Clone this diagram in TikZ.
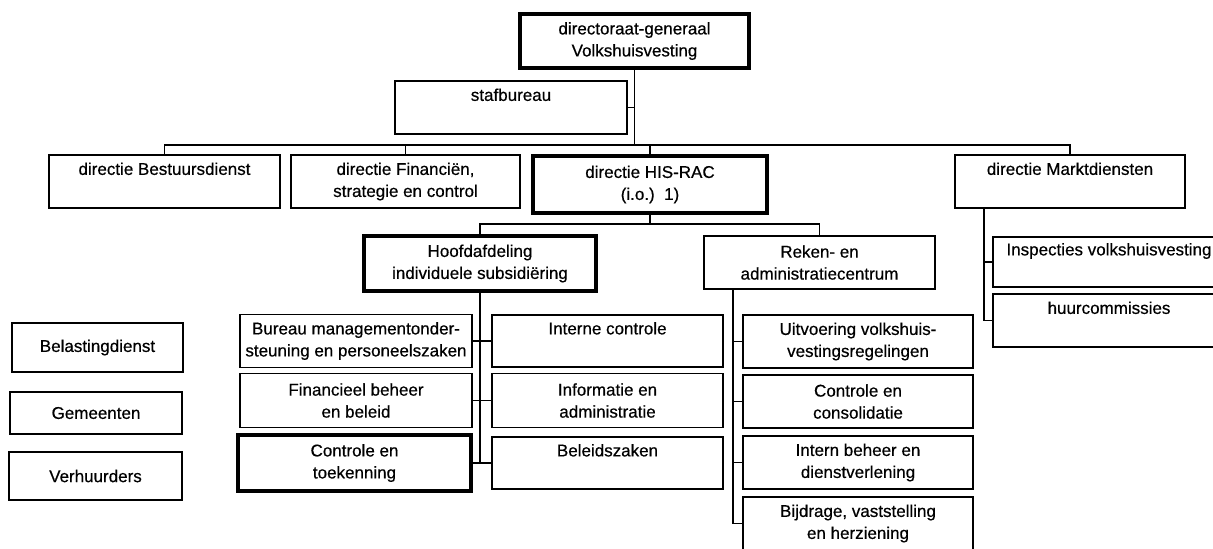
\documentclass[tikz,border=0pt]{standalone}
\usepackage{fontspec}
\newfontfamily\arialf[FakeBold=0.5]{Liberation Sans}
\begin{document}
\begin{tikzpicture}[x=0.5pt,y=-0.5pt,
  box/.style={draw, line width=0.9pt, inner sep=0pt, outer sep=0pt, align=center,
    font=\arialf\fontsize{8.5}{11}\selectfont},
  thickbox/.style={box, line width=2pt},
  topline/.style={text depth=12.8pt},
  wire/.style={line width=0.9pt}]
\useasboundingbox (0,0) rectangle (1213,548);
\fill[white] (0,0) rectangle (1213,548);

% top level
\node[thickbox, minimum width=114.5pt, minimum height=27pt] (dg) at (634.5,41) {directoraat-generaal\\Volkshuisvesting};
\node[box, topline, minimum width=116pt, minimum height=26.5pt] (staf) at (511,107.5) {stafbureau};

% directies
\node[box, topline, minimum width=115.5pt, minimum height=26.5pt] (bestuur) at (164.5,181.5) {directie Bestuursdienst};
\node[box, minimum width=114.5pt, minimum height=26.5pt] (fin) at (405.5,181.5) {directie Financiën,\\strategie en control};
\node[thickbox, minimum width=117pt, minimum height=28.5pt] (hisrac) at (650,184.5) {directie HIS-RAC\\(i.o.)\ \ 1)};
\node[box, topline, minimum width=115pt, minimum height=26.5pt] (markt) at (1070,181.5) {directie Marktdiensten};

% third level
\node[thickbox, minimum width=116pt, minimum height=27.5pt] (hoofd) at (480,263.5) {Hoofdafdeling\\individuele subsidiëring};
\node[box, minimum width=115.5pt, minimum height=26.5pt] (reken) at (819.5,262.5) {Reken- en\\administratiecentrum};
\node[box, topline, minimum width=116pt, minimum height=25pt] (insp) at (1109,262) {Inspecties volkshuisvesting};
\node[box, topline, minimum width=116pt, minimum height=26.5pt] (huur) at (1109,320.5) {huurcommissies};

% hoofdafdeling children
\node[box, minimum width=116pt, minimum height=26.5pt] (bureau) at (356,341) {Bureau managementonder-\\steuning en personeelszaken};
\node[box, minimum width=116pt, minimum height=27pt] (finb) at (356,400.5) {Financieel beheer\\en beleid};
\node[thickbox, minimum width=116.5pt, minimum height=28pt] (ctoek) at (354.5,463) {Controle en\\toekenning};
\node[box, topline, minimum width=115.5pt, minimum height=26pt] (intc) at (607.5,341) {Interne controle};
\node[box, minimum width=115.5pt, minimum height=27pt] (info) at (607.5,400.5) {Informatie en\\administratie};
\node[box, topline, minimum width=115.5pt, minimum height=26pt] (beleid) at (607.5,463) {Beleidszaken};

% reken children
\node[box, minimum width=115pt, minimum height=26.5pt] (uitv) at (858,341.5) {Uitvoering volkshuis-\\vestingsregelingen};
\node[box, minimum width=115pt, minimum height=26.5pt] (ccons) at (858,401.5) {Controle en\\consolidatie};
\node[box, minimum width=115pt, minimum height=26.5pt] (intb) at (858,462.5) {Intern beheer en\\dienstverlening};
\node[box, minimum width=115pt, minimum height=26.5pt] (bijd) at (858,523.5) {Bijdrage, vaststelling\\en herziening};

% external
\node[box, minimum width=85.5pt, minimum height=24.5pt] (bel) at (97.5,347.5) {Belastingdienst};
\node[box, minimum width=86pt, minimum height=21pt] (gem) at (96,413) {Gemeenten};
\node[box, minimum width=86.5pt, minimum height=24pt] (verh) at (95.5,476) {Verhuurders};

% connectors
\coordinate (barA) at (0,145);
\coordinate (barB) at (0,224);
\coordinate (rkx) at (733,0);
\coordinate (mkx) at (984,0);

\draw[wire] (dg.south) -- (dg.south |- barA);
\draw[wire] (staf.east) -- (staf.east -| dg.south);
\draw[wire] (bestuur.north) -- (bestuur.north |- barA) -- (markt.north |- barA) -- (markt.north);
\draw[wire] (fin.north) -- (fin.north |- barA);
\draw[wire] (hisrac.north) -- (hisrac.north |- barA);

\draw[wire] (hisrac.south) -- (hisrac.south |- barB);
\draw[wire] (hoofd.north) -- (hoofd.north |- barB) -- (reken.north |- barB) -- (reken.north);

\draw[wire] (hoofd.south) -- (hoofd.south |- ctoek.east);
\draw[wire] (bureau.east) -- (bureau.east -| hoofd.south);
\draw[wire] (finb.east) -- (finb.east -| hoofd.south);
\draw[wire] (ctoek.east) -- (ctoek.east -| hoofd.south);
\draw[wire] (intc.west) -- (intc.west -| hoofd.south);
\draw[wire] (info.west) -- (info.west -| hoofd.south);
\draw[wire] (beleid.west) -- (beleid.west -| hoofd.south);

\draw[wire] (reken.south -| rkx) -- (bijd.west -| rkx);
\draw[wire] (uitv.west) -- (uitv.west -| rkx);
\draw[wire] (ccons.west) -- (ccons.west -| rkx);
\draw[wire] (intb.west) -- (intb.west -| rkx);
\draw[wire] (bijd.west) -- (bijd.west -| rkx);

\draw[wire] (markt.south -| mkx) -- (huur.west -| mkx);
\draw[wire] (insp.west) -- (insp.west -| mkx);
\draw[wire] (huur.west) -- (huur.west -| mkx);
\end{tikzpicture}
\end{document}
